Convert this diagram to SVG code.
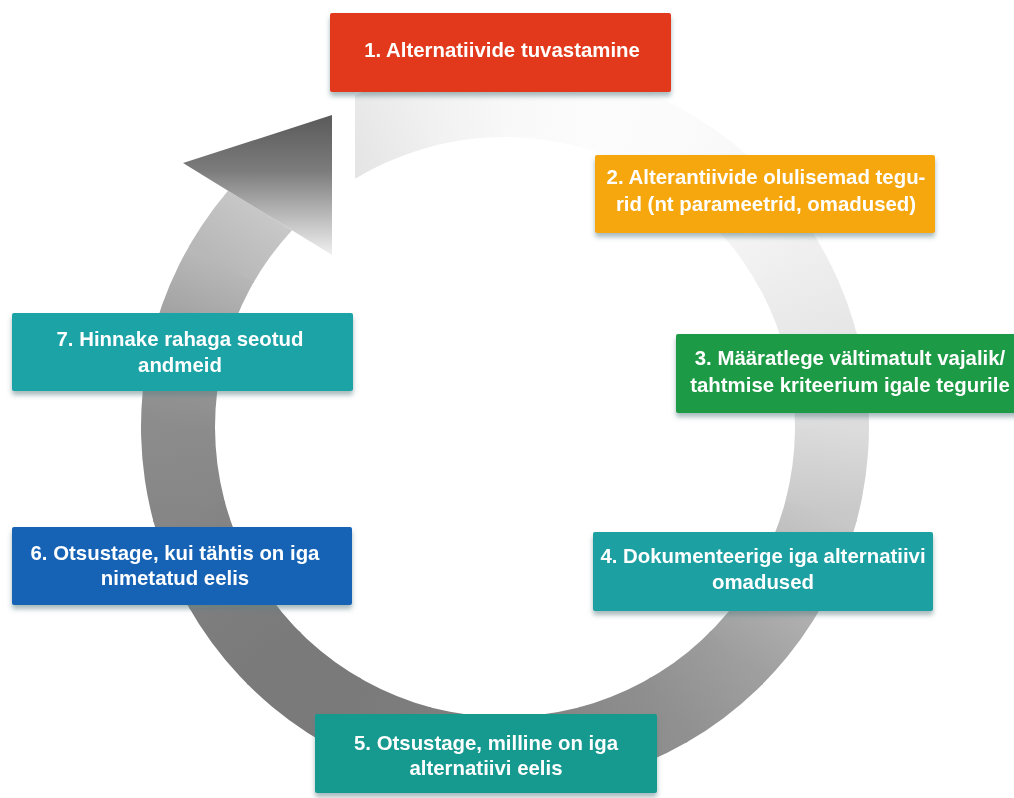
<svg xmlns="http://www.w3.org/2000/svg" width="1014" height="798" viewBox="0 0 1014 798">
<style>
.box{filter:url(#sh)}
.t{font-family:"Liberation Sans",Arial,sans-serif;font-weight:bold;font-size:20.4px;fill:#fff;text-anchor:middle}
.w{stroke-width:1.5}
</style>
<defs>
<filter id="sh" x="-5%" y="-20%" width="110%" height="150%">
<feDropShadow dx="0" dy="4" stdDeviation="2.5" flood-color="#5d7f86" flood-opacity="0.55"/>
</filter>
<clipPath id="ringclip">
<path d="M355,95.3 A364,364 0 1 1 228,190.8 L292,230.2 A290,290 0 1 0 355,178.8 Z"/>
</clipPath>
<linearGradient id="ah" gradientUnits="userSpaceOnUse" x1="300" y1="115" x2="300" y2="255">
<stop offset="0" stop-color="#5a5a5a"/><stop offset="0.4" stop-color="#7c7c7c"/><stop offset="1" stop-color="#f0f0f0"/>
</linearGradient>
<linearGradient id="g1" gradientUnits="userSpaceOnUse" x1="273.8" y1="195.8" x2="341.5" y2="143.8"><stop offset="0" stop-color="#e2e2e2"/><stop offset="1" stop-color="#e4e4e4"/></linearGradient>
<linearGradient id="g2" gradientUnits="userSpaceOnUse" x1="341.5" y1="143.8" x2="420.4" y2="111.1"><stop offset="0" stop-color="#e4e4e4"/><stop offset="1" stop-color="#f0f0f0"/></linearGradient>
<linearGradient id="g3" gradientUnits="userSpaceOnUse" x1="420.4" y1="111.1" x2="505" y2="100"><stop offset="0" stop-color="#f0f0f0"/><stop offset="1" stop-color="#f8f8f8"/></linearGradient>
<linearGradient id="g4" gradientUnits="userSpaceOnUse" x1="505" y1="100" x2="589.6" y2="111.1"><stop offset="0" stop-color="#f8f8f8"/><stop offset="1" stop-color="#fcfcfc"/></linearGradient>
<linearGradient id="g5" gradientUnits="userSpaceOnUse" x1="589.6" y1="111.1" x2="668.5" y2="143.8"><stop offset="0" stop-color="#fcfcfc"/><stop offset="1" stop-color="#fbfbfb"/></linearGradient>
<linearGradient id="g6" gradientUnits="userSpaceOnUse" x1="668.5" y1="143.8" x2="736.2" y2="195.8"><stop offset="0" stop-color="#fbfbfb"/><stop offset="1" stop-color="#f7f7f7"/></linearGradient>
<linearGradient id="g7" gradientUnits="userSpaceOnUse" x1="736.2" y1="195.8" x2="788.2" y2="263.5"><stop offset="0" stop-color="#f7f7f7"/><stop offset="1" stop-color="#efefef"/></linearGradient>
<linearGradient id="g8" gradientUnits="userSpaceOnUse" x1="788.2" y1="263.5" x2="820.9" y2="342.4"><stop offset="0" stop-color="#efefef"/><stop offset="1" stop-color="#e6e6e6"/></linearGradient>
<linearGradient id="g9" gradientUnits="userSpaceOnUse" x1="820.9" y1="342.4" x2="832" y2="427"><stop offset="0" stop-color="#e6e6e6"/><stop offset="1" stop-color="#dcdcdc"/></linearGradient>
<linearGradient id="g10" gradientUnits="userSpaceOnUse" x1="832" y1="427" x2="820.9" y2="511.6"><stop offset="0" stop-color="#dcdcdc"/><stop offset="1" stop-color="#c8c8c8"/></linearGradient>
<linearGradient id="g11" gradientUnits="userSpaceOnUse" x1="820.9" y1="511.6" x2="788.2" y2="590.5"><stop offset="0" stop-color="#c8c8c8"/><stop offset="1" stop-color="#b2b2b2"/></linearGradient>
<linearGradient id="g12" gradientUnits="userSpaceOnUse" x1="788.2" y1="590.5" x2="736.2" y2="658.2"><stop offset="0" stop-color="#b2b2b2"/><stop offset="1" stop-color="#9e9e9e"/></linearGradient>
<linearGradient id="g13" gradientUnits="userSpaceOnUse" x1="736.2" y1="658.2" x2="668.5" y2="710.2"><stop offset="0" stop-color="#9e9e9e"/><stop offset="1" stop-color="#909090"/></linearGradient>
<linearGradient id="g14" gradientUnits="userSpaceOnUse" x1="668.5" y1="710.2" x2="589.6" y2="742.9"><stop offset="0" stop-color="#909090"/><stop offset="1" stop-color="#888888"/></linearGradient>
<linearGradient id="g15" gradientUnits="userSpaceOnUse" x1="589.6" y1="742.9" x2="505" y2="754"><stop offset="0" stop-color="#888888"/><stop offset="1" stop-color="#828282"/></linearGradient>
<linearGradient id="g16" gradientUnits="userSpaceOnUse" x1="505" y1="754" x2="420.4" y2="742.9"><stop offset="0" stop-color="#828282"/><stop offset="1" stop-color="#7e7e7e"/></linearGradient>
<linearGradient id="g17" gradientUnits="userSpaceOnUse" x1="420.4" y1="742.9" x2="341.5" y2="710.2"><stop offset="0" stop-color="#7e7e7e"/><stop offset="1" stop-color="#7a7a7a"/></linearGradient>
<linearGradient id="g18" gradientUnits="userSpaceOnUse" x1="341.5" y1="710.2" x2="273.8" y2="658.2"><stop offset="0" stop-color="#7a7a7a"/><stop offset="1" stop-color="#7a7a7a"/></linearGradient>
<linearGradient id="g19" gradientUnits="userSpaceOnUse" x1="273.8" y1="658.2" x2="221.8" y2="590.5"><stop offset="0" stop-color="#7a7a7a"/><stop offset="1" stop-color="#7e7e7e"/></linearGradient>
<linearGradient id="g20" gradientUnits="userSpaceOnUse" x1="221.8" y1="590.5" x2="189.1" y2="511.6"><stop offset="0" stop-color="#7e7e7e"/><stop offset="1" stop-color="#868686"/></linearGradient>
<linearGradient id="g21" gradientUnits="userSpaceOnUse" x1="189.1" y1="511.6" x2="178" y2="427"><stop offset="0" stop-color="#868686"/><stop offset="1" stop-color="#8c8c8c"/></linearGradient>
<linearGradient id="g22" gradientUnits="userSpaceOnUse" x1="178" y1="427" x2="189.1" y2="342.4"><stop offset="0" stop-color="#8c8c8c"/><stop offset="1" stop-color="#9c9c9c"/></linearGradient>
<linearGradient id="g23" gradientUnits="userSpaceOnUse" x1="189.1" y1="342.4" x2="221.8" y2="263.5"><stop offset="0" stop-color="#9c9c9c"/><stop offset="1" stop-color="#b8b8b8"/></linearGradient>
<linearGradient id="g24" gradientUnits="userSpaceOnUse" x1="221.8" y1="263.5" x2="273.8" y2="195.8"><stop offset="0" stop-color="#b8b8b8"/><stop offset="1" stop-color="#cccccc"/></linearGradient>
</defs>
<rect width="1014" height="798" fill="#fff"/>
<g id="connectors">
<g id="cycle-arrow" clip-path="url(#ringclip)">
<path class="w" fill="url(#g1)" stroke="url(#g1)" d="M505,427 L229.2,151.2 L310,89.3 Z"/>
<path class="w" fill="url(#g2)" stroke="url(#g2)" d="M505,427 L310,89.3 L404.1,50.3 Z"/>
<path class="w" fill="url(#g3)" stroke="url(#g3)" d="M505,427 L404.1,50.3 L505,37 Z"/>
<path class="w" fill="url(#g4)" stroke="url(#g4)" d="M505,427 L505,37 L605.9,50.3 Z"/>
<path class="w" fill="url(#g5)" stroke="url(#g5)" d="M505,427 L605.9,50.3 L700,89.3 Z"/>
<path class="w" fill="url(#g6)" stroke="url(#g6)" d="M505,427 L700,89.3 L780.8,151.2 Z"/>
<path class="w" fill="url(#g7)" stroke="url(#g7)" d="M505,427 L780.8,151.2 L842.7,232 Z"/>
<path class="w" fill="url(#g8)" stroke="url(#g8)" d="M505,427 L842.7,232 L881.7,326.1 Z"/>
<path class="w" fill="url(#g9)" stroke="url(#g9)" d="M505,427 L881.7,326.1 L895,427 Z"/>
<path class="w" fill="url(#g10)" stroke="url(#g10)" d="M505,427 L895,427 L881.7,527.9 Z"/>
<path class="w" fill="url(#g11)" stroke="url(#g11)" d="M505,427 L881.7,527.9 L842.7,622 Z"/>
<path class="w" fill="url(#g12)" stroke="url(#g12)" d="M505,427 L842.7,622 L780.8,702.8 Z"/>
<path class="w" fill="url(#g13)" stroke="url(#g13)" d="M505,427 L780.8,702.8 L700,764.7 Z"/>
<path class="w" fill="url(#g14)" stroke="url(#g14)" d="M505,427 L700,764.7 L605.9,803.7 Z"/>
<path class="w" fill="url(#g15)" stroke="url(#g15)" d="M505,427 L605.9,803.7 L505,817 Z"/>
<path class="w" fill="url(#g16)" stroke="url(#g16)" d="M505,427 L505,817 L404.1,803.7 Z"/>
<path class="w" fill="url(#g17)" stroke="url(#g17)" d="M505,427 L404.1,803.7 L310,764.7 Z"/>
<path class="w" fill="url(#g18)" stroke="url(#g18)" d="M505,427 L310,764.7 L229.2,702.8 Z"/>
<path class="w" fill="url(#g19)" stroke="url(#g19)" d="M505,427 L229.2,702.8 L167.3,622 Z"/>
<path class="w" fill="url(#g20)" stroke="url(#g20)" d="M505,427 L167.3,622 L128.3,527.9 Z"/>
<path class="w" fill="url(#g21)" stroke="url(#g21)" d="M505,427 L128.3,527.9 L115,427 Z"/>
<path class="w" fill="url(#g22)" stroke="url(#g22)" d="M505,427 L115,427 L128.3,326.1 Z"/>
<path class="w" fill="url(#g23)" stroke="url(#g23)" d="M505,427 L128.3,326.1 L167.3,232 Z"/>
<path class="w" fill="url(#g24)" stroke="url(#g24)" d="M505,427 L167.3,232 L229.2,151.2 Z"/>
</g>
<path id="arrowhead" d="M183,163 L332,115 L332,255 Z" fill="url(#ah)"/>
</g>
<g id="node1" class="box"><rect x="330" y="13" width="341" height="79" rx="2" fill="#e2391b"/><text class="t" x="502" y="57">1. Alternatiivide tuvastamine</text></g>
<g id="node2" class="box"><rect x="595" y="155" width="340" height="78" rx="2" fill="#f5a70f"/><text class="t" x="766" y="184">2. Alterantiivide olulisemad tegu-</text><text class="t" x="766" y="211">rid (nt parameetrid, omadused)</text></g>
<g id="node3" class="box"><rect x="676" y="334" width="345" height="79" rx="2" fill="#1e9a44"/><text class="t" x="850" y="365">3. Määratlege vältimatult vajalik/</text><text class="t" x="850" y="392">tahtmise kriteerium igale tegurile</text></g>
<g id="node4" class="box"><rect x="593" y="532" width="340" height="79" rx="2" fill="#1aa0a2"/><text class="t" x="763" y="563">4. Dokumenteerige iga alternatiivi</text><text class="t" x="763" y="589">omadused</text></g>
<g id="node5" class="box"><rect x="315" y="714" width="342" height="79" rx="2" fill="#16998f"/><text class="t" x="486" y="750">5. Otsustage, milline on iga</text><text class="t" x="486" y="775">alternatiivi eelis</text></g>
<g id="node6" class="box"><rect x="12" y="527" width="340" height="78" rx="2" fill="#1663b6"/><text class="t" x="175" y="560">6. Otsustage, kui tähtis on iga</text><text class="t" x="175" y="585">nimetatud eelis</text></g>
<g id="node7" class="box"><rect x="12" y="313" width="341" height="78" rx="2" fill="#1aa3a6"/><text class="t" x="180" y="346">7. Hinnake rahaga seotud</text><text class="t" x="180" y="372">andmeid</text></g>
</svg>
